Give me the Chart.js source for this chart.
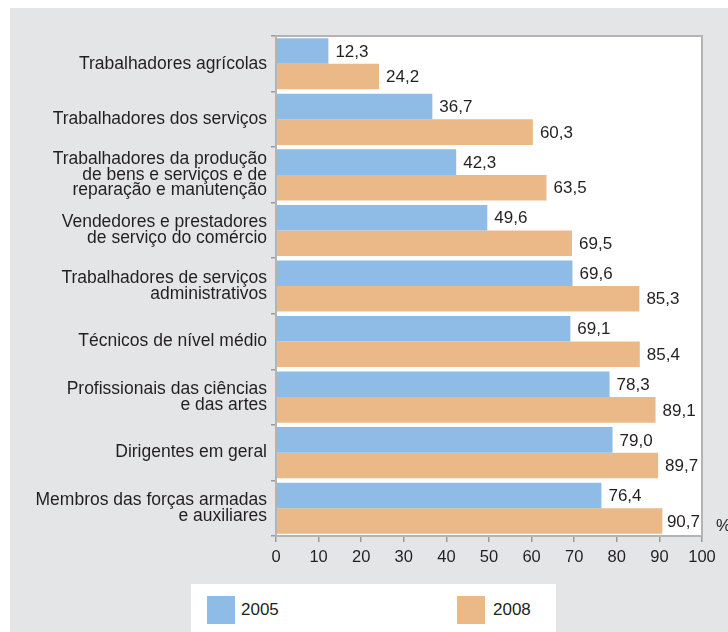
<!DOCTYPE html>
<html>
<head>
<meta charset="utf-8">
<script src="https://cdn.jsdelivr.net/npm/chart.js@4"></script>
<style>
  html, body { margin: 0; padding: 0; background: #fff; overflow: hidden; }
  #wrap { position: relative; width: 728px; height: 632px; }
  #legend { position: absolute; left: 191px; top: 584px; width: 365px; height: 48px; background: #fff;
            font-family: "Liberation Sans", Arial, sans-serif; font-size: 17px; color: #231f20; }
  .sw { position: absolute; top: 12px; width: 28px; height: 28px; }
  .lt { position: absolute; top: 16px; line-height: 20px; }
</style>
</head>
<body>
<div id="wrap">
  <canvas id="c" width="728" height="632"></canvas>
  <div id="legend">
    <div class="sw" style="left:16px;background:#8ebce6"></div><div class="lt" style="left:50px">2005</div>
    <div class="sw" style="left:266px;background:#ebb987"></div><div class="lt" style="left:302px">2008</div>
  </div>
</div>
<script>
const categories = [
  "Trabalhadores agrícolas",
  "Trabalhadores dos serviços",
  ["Trabalhadores da produção", "de bens e serviços e de", "reparação e manutenção"],
  ["Vendedores e prestadores", "de serviço do comércio"],
  ["Trabalhadores de serviços", "administrativos"],
  "Técnicos de nível médio",
  ["Profissionais das ciências", "e das artes"],
  "Dirigentes em geral",
  ["Membros das forças armadas", "e auxiliares"]
];
const values2005 = [12.3, 36.7, 42.3, 49.6, 69.6, 69.1, 78.3, 79.0, 76.4];
const values2008 = [24.2, 60.3, 63.5, 69.5, 85.3, 85.4, 89.1, 89.7, 90.7];
const seriesNames = ["2005", "2008"];
const axisUnit = "%";

const FONT = '"Liberation Sans", Arial, sans-serif';
const TXT = '#231f20';

const bgPlugin = {
  id: 'bg',
  beforeDraw(chart) {
    const { ctx, chartArea: a } = chart;
    ctx.save();
    ctx.fillStyle = '#ffffff';
    ctx.fillRect(0, 0, chart.width, chart.height);
    ctx.fillStyle = '#e4e5e6';
    ctx.fillRect(10, 8, chart.width - 10, chart.height - 8);
    ctx.fillStyle = '#ffffff';
    ctx.fillRect(a.left, a.top, a.right - a.left, a.bottom - a.top);
    ctx.restore();
  },
  afterDatasetsDraw(chart) {
    const { ctx, chartArea: a } = chart;
    ctx.save();
    ctx.font = '17px ' + FONT;
    ctx.fillStyle = TXT;
    ctx.textBaseline = 'middle';
    ctx.textAlign = 'left';
    chart.data.datasets.forEach((ds, i) => {
      chart.getDatasetMeta(i).data.forEach((bar, j) => {
        const txt = ds.data[j].toFixed(1).replace('.', ',');
        const w = ctx.measureText(txt).width;
        const x = Math.min(bar.x + 7, a.right - 2 - w);
        ctx.fillText(txt, x, bar.y + 1);
      });
    });
    ctx.restore();
  },
  afterDraw(chart) {
    const { ctx, chartArea: a } = chart;
    ctx.save();
    ctx.strokeStyle = '#b4b4b4';
    ctx.lineWidth = 2;
    ctx.strokeRect(a.left, a.top, a.right - a.left, a.bottom - a.top);
    ctx.font = '17px ' + FONT;
    ctx.fillStyle = TXT;
    ctx.textBaseline = 'middle';
    ctx.fillText(axisUnit, 716, 526);
    ctx.restore();
  }
};

new Chart(document.getElementById('c'), {
  type: 'bar',
  data: {
    labels: categories,
    datasets: [
      { label: seriesNames[0], data: values2005, backgroundColor: '#8ebce6', borderWidth: 0,
        barPercentage: 1.0, categoryPercentage: 0.92 },
      { label: seriesNames[1], data: values2008, backgroundColor: '#ebb987', borderWidth: 0,
        barPercentage: 1.0, categoryPercentage: 0.92 }
    ]
  },
  options: {
    indexAxis: 'y',
    responsive: false,
    animation: false,
    devicePixelRatio: 1,
    layout: { padding: { left: 10, top: 36, right: 26, bottom: 66 } },
    plugins: { legend: { display: false }, tooltip: { enabled: false } },
    scales: {
      x: {
        min: 0, max: 100,
        afterFit(s) { s.height = 30; },
        border: { display: false },
        grid: { drawOnChartArea: false, tickLength: 6, color: '#9a9a9a', lineWidth: 1.5 },
        ticks: { stepSize: 10, padding: 6, color: TXT, font: { family: FONT, size: 16.5 } }
      },
      y: {
        afterFit(s) { s.width = 266; },
        border: { display: false },
        grid: { offset: true, drawOnChartArea: false, tickLength: 5, color: '#9a9a9a', lineWidth: 1.5 },
        ticks: { padding: 4, color: TXT, font: { family: FONT, size: 17.5, lineHeight: 0.9 } }
      }
    }
  },
  plugins: [bgPlugin]
});
</script>
</body>
</html>
